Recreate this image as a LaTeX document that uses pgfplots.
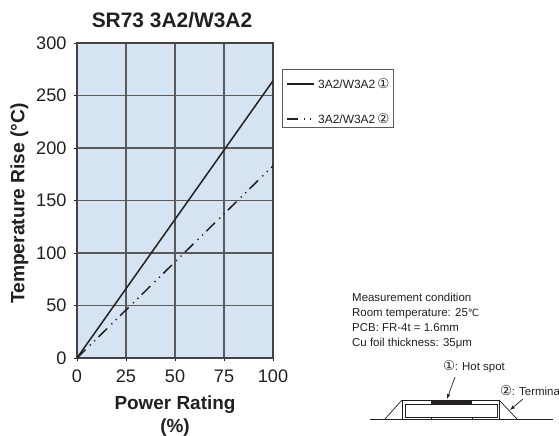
\documentclass[border=0pt]{standalone}
\usepackage{pgfplots}
\pgfplotsset{compat=1.18}
\usepackage{fontspec}
\setmainfont{Liberation Sans}
\newfontfamily\djv{DejaVu Sans}
\definecolor{plotbg}{HTML}{D6E3F2}
\definecolor{gridc}{HTML}{5A5A5C}
\definecolor{ink}{HTML}{231F20}
\begin{document}
\begin{tikzpicture}[x=1bp,y=-1bp,color=ink]
\useasboundingbox (0,0) rectangle (559,436);
\begin{scope}
\clip (0,0) rectangle (559,436);
\begin{axis}[
  at={(77bp,-358bp)}, anchor=south west,
  scale only axis, width=196bp, height=315bp,
  xmin=0, xmax=100, ymin=0, ymax=300,
  xtick={0,25,50,75,100}, ytick={0,50,100,150,200,250,300},
  xtick pos=bottom, ytick pos=left,
  axis background/.style={fill=plotbg},
  grid=major, grid style={gridc, line width=1.2pt},
  axis line style={gridc!60!ink, line width=1.1pt},
  tick style={ink, line width=0.9pt},
  tick align=outside, major tick length=3bp,
  ticklabel style={font=\fontsize{18.2}{18}\selectfont, text=ink},
  /pgf/number format/assume math mode=true,
  xticklabel style={yshift=-5bp},
  yticklabel style={xshift=-4bp},
  xlabel={\textbf{Power Rating}\\\textbf{(\%)}},
  xlabel style={font=\fontsize{19}{22.5}\selectfont, align=center, text=ink, yshift=-7bp},
  ylabel={\textbf{Temperature Rise (°C)}},
  ylabel style={font=\fontsize{19.3}{19}\selectfont, text=ink, yshift=1bp, xshift=-3bp},
  title={\textbf{SR73 3A2/W3A2}},
  title style={font=\fontsize{21}{22}\selectfont, text=ink, yshift=6bp, xshift=-3bp},
]
\addplot[ink, line width=1.5pt, no marks] coordinates {(0,0) (100,264)};
\addplot[ink, line width=1.5pt, no marks, dash pattern=on 12bp off 6bp on 1.2bp off 5bp on 1.2bp off 4.8bp] coordinates {(0,0) (100,183)};
\end{axis}
\draw[gridc, line width=0.9pt] (282,69) rectangle (393,127);
\draw[ink, line width=1.5pt] (287,84) -- (314,84);
\draw[ink, line width=1.5pt, dash pattern=on 11bp off 6bp on 1.2bp off 5bp on 1.2bp off 6bp] (287,119) -- (314,119);
\node[anchor=west, inner sep=0pt, font=\fontsize{12}{12}\selectfont] at (318,84) {3A2/W3A2\hspace{2bp}{\djv\fontsize{13.5}{13}\selectfont ①}};
\node[anchor=west, inner sep=0pt, font=\fontsize{12}{12}\selectfont] at (318,119) {3A2/W3A2\hspace{2bp}{\djv\fontsize{13.5}{13}\selectfont ②}};
\node[anchor=west, inner sep=0pt, align=left, font=\fontsize{11.5}{15.3}\selectfont] at (352,321) {Measurement condition\\Room temperature: 25{\djv\fontsize{10}{10}\selectfont ℃}\\PCB: FR-4t = 1.6mm\\Cu foil thickness: 35μm};
\node[anchor=west, inner sep=0pt, font=\fontsize{11.5}{12}\selectfont] at (443,367) {{\djv\fontsize{13.5}{13}\selectfont ①}\hspace{-0.5bp}: Hot spot};
\node[anchor=west, inner sep=0pt, font=\fontsize{11.5}{12}\selectfont] at (500,391) {{\djv\fontsize{13.5}{13}\selectfont ②}\hspace{-0.5bp}: Termina};
% package sketch
\draw[ink, line width=0.8pt] (370,419) -- (553,419);
\draw[ink, line width=0.9pt] (402,419) -- (402,400) -- (499,400) -- (499,419);
\draw[ink, line width=0.9pt] (405,417) rectangle (497,404);
\fill[ink] (431,400) rectangle (472,404);
\draw[ink, line width=0.7pt] (431,417) -- (431,419) (472,417) -- (472,419);
\draw[ink, line width=0.7pt] (385,419) -- (402,400);
\draw[ink, line width=0.7pt] (499,400) -- (517,419);
\draw[ink, line width=0.7pt, -{latex}] (455,377) -- (447,399);
\draw[ink, line width=0.7pt, -{latex}] (523,399) -- (510,410);
\end{scope}
\end{tikzpicture}
\end{document}
